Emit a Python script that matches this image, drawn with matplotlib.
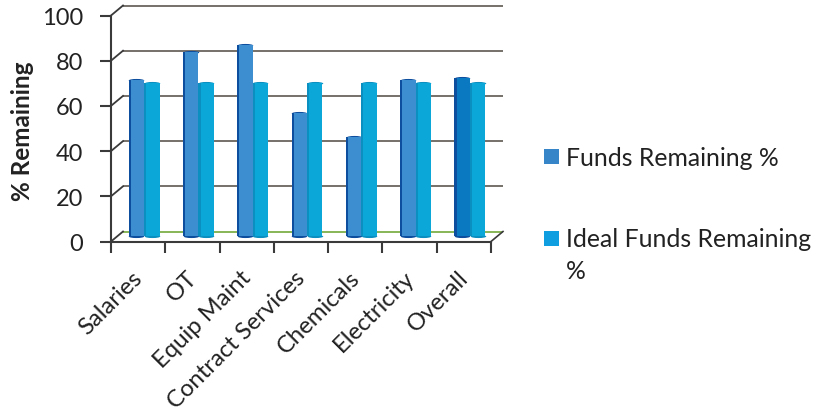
import matplotlib
matplotlib.use("Agg")
import matplotlib.pyplot as plt
from matplotlib.transforms import ScaledTranslation, Affine2D
from matplotlib.patches import Rectangle
from matplotlib.path import Path
import numpy as np

plt.rcParams['font.family'] = ['Lato', 'DejaVu Sans']

categories = ["Salaries", "OT", "Equip Maint", "Contract Services", "Chemicals", "Electricity", "Overall"]
funds = [69.3, 81.3, 84.8, 54.7, 43.7, 68.9, 70.2]
ideal = [67.6, 67.6, 67.6, 67.8, 67.8, 67.8, 68.0]
yticks = [0, 20, 40, 60, 80, 100]
series_names = ["Funds Remaining %", "Ideal Funds Remaining\n%"]

W, H, DPI = 818, 414, 100
fig = plt.figure(figsize=(W / DPI, H / DPI), dpi=DPI, facecolor="white")
L, R, T, B = 111, 491, 16.5, 242.5
ax = fig.add_axes([L / W, 1 - B / H, (R - L) / W, (B - T) / H])
ax.set_xlim(0, len(categories))
ax.set_ylim(0, 100)
ax.patch.set_alpha(0)
for s in ("top", "right"):
    ax.spines[s].set_visible(False)
for s in ("left", "bottom"):
    ax.spines[s].set_color("#3a3a3a")
    ax.spines[s].set_linewidth(1.5)


def shift(px, py):
    return ax.transData + ScaledTranslation(px / DPI, py / DPI, fig.dpi_scale_trans)


back = shift(12, 10)
for v in yticks:
    color = "#7fb04a" if v == 0 else "#6a655e"
    ax.plot([0, len(categories)], [v, v], transform=back, color=color, lw=1.3,
            clip_on=False, zorder=1, solid_capstyle="butt")
    x0, y0 = ax.transData.transform((0, v))
    x1, y1 = back.transform((0, v))
    ax.plot([x0, x1], [y0, y1], transform=None, color="#3a3a3a", lw=1.3, clip_on=False, zorder=2)
x0, y0 = ax.transData.transform((len(categories), 0))
x1, y1 = back.transform((len(categories), 0))
ax.plot([x0, x1], [y0, y1], transform=None, color="#3a3a3a", lw=1.2, clip_on=False, zorder=2)

x = np.arange(len(categories)) + 0.5
w = 0.285
mid = shift(6, 5.3)
ellipse = Path.unit_circle().transformed(Affine2D().scale(1, 0.2))
cap = 125


def cylinders(xs, vals, dark, body, z):
    xs = np.asarray(xs)
    vals = np.asarray(vals)
    ax.scatter(xs, vals, marker=ellipse, s=cap, color=dark, transform=mid, zorder=z, clip_on=False, linewidths=0)
    ax.scatter(xs, np.zeros_like(vals), marker=ellipse, s=cap, color=dark, transform=mid, zorder=z, clip_on=False, linewidths=0)
    ax.bar(xs, vals, w, transform=mid, color=dark, zorder=z, clip_on=False)
    ax.bar(xs + 0.02, vals, w - 0.04, transform=mid, color=body, zorder=z, clip_on=False)


cylinders(x - w / 2, funds, "#0d4f9e", "#3d8ed0", 3)
cylinders(x + w / 2, ideal, "#0a8fc0", "#0aa7d8", 4)
# the Overall bar is printed darker
ax.bar(x[-1] - w / 2 + 0.02, funds[-1], w - 0.04, transform=mid, color="#0b78c2", zorder=3.5, clip_on=False)

ax.set_yticks(yticks)
ax.tick_params(axis="y", length=8, width=1.5, color="#3a3a3a", labelsize=17, pad=12, labelcolor="#222222")
plt.setp(ax.get_yticklabels(), va="center_baseline")
ax.set_xticks(np.arange(len(categories) + 1))
ax.tick_params(axis="x", length=8, width=1.5, color="#3a3a3a", labelbottom=False)
for xi, name in zip(x, categories):
    ax.annotate(name, xy=(xi, 0), xytext=(-4.6, -18), textcoords="offset points",
                rotation=45, ha="right", va="top", rotation_mode="anchor",
                fontsize=17.2, color="#222222", annotation_clip=False)
fig.text(23 / W, 1 - 131 / H, "% Remaining", rotation=90, ha="center", va="center",
         fontsize=17.5, fontweight="bold", color="#222222")

legend_colors = ["#3585c8", "#0f9fe0"]
legend_ys = [157.5, 239]
for name, c, ly in zip(series_names, legend_colors, legend_ys):
    fig.patches.append(Rectangle((544 / W, 1 - (ly + 7.5) / H), 14.5 / W, 15 / H,
                                 transform=fig.transFigure, facecolor=c, edgecolor="none"))
    fig.text(566 / W, 1 - (ly - 11) / H, name, ha="left", va="top", fontsize=17.8,
             linespacing=1.48, color="#222222")

fig.savefig("out.png", dpi=DPI)
